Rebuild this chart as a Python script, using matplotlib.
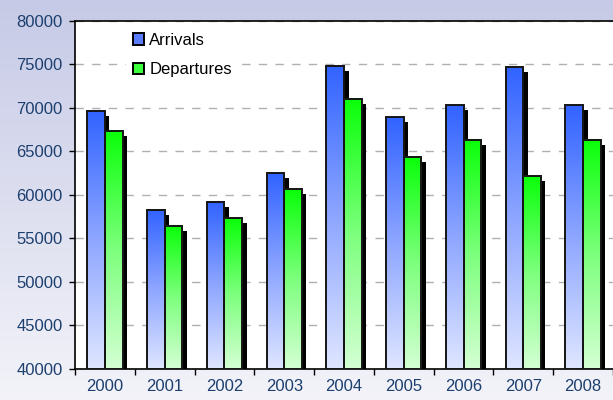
import matplotlib
matplotlib.use("Agg")
import matplotlib.pyplot as plt
import matplotlib.transforms as mtransforms
import numpy as np
from matplotlib.colors import LinearSegmentedColormap
from matplotlib.patches import Patch

years = ["2000", "2001", "2002", "2003", "2004", "2005", "2006", "2007", "2008"]
arrivals = [69700, 58300, 59250, 62500, 74850, 68950, 70300, 74700, 70300]
departures = [67400, 56450, 57350, 60650, 71050, 64400, 66350, 62200, 66350]
y_ticks = [40000, 45000, 50000, 55000, 60000, 65000, 70000, 75000, 80000]

plt.rcParams["font.family"] = ["Liberation Sans", "DejaVu Sans"]

blue_cmap = LinearSegmentedColormap.from_list("b", ["#dfe6ff", "#8ea6ff", "#3163ff"])
green_cmap = LinearSegmentedColormap.from_list("g", ["#d4ffd4", "#7dff7d", "#0aff0a"])
tick_color = "#1c3f6e"

fig = plt.figure(figsize=(6.13, 4.0), dpi=100)

# background gradient for the whole figure
bg = fig.add_axes([0, 0, 1, 1], zorder=-10)
bg_cmap = LinearSegmentedColormap.from_list("bg", ["#f3f3f9", "#c6cae6"])
bg.imshow(np.linspace(0, 1, 256).reshape(-1, 1), aspect="auto", cmap=bg_cmap,
          origin="lower", extent=[0, 1, 0, 1])
bg.set_axis_off()

ax = fig.add_axes([75 / 613, 31 / 400, 538 / 613, 348 / 400])
ax.set_facecolor("white")

x = np.arange(len(years))
width = 0.295
base = y_ticks[0]

# shadow offset a few pixels right and down
shadow_tr = ax.transData + mtransforms.ScaledTranslation(4.5 / 100, -5 / 100,
                                                          fig.dpi_scale_trans)

for xs, vals in [(x - width, arrivals), (x, departures)]:
    sh = ax.bar(xs, np.array(vals) - base, width, bottom=base, align="edge",
                color="black", edgecolor="black", linewidth=0, zorder=2)
    for p in sh:
        p.set_transform(shadow_tr)

grad = np.linspace(0, 1, 256).reshape(-1, 1)
for xs, vals, cmap in [(x - width, arrivals, blue_cmap), (x, departures, green_cmap)]:
    for xi, v in zip(xs, vals):
        ax.imshow(grad, extent=[xi, xi + width, base, v], origin="lower",
                  aspect="auto", cmap=cmap, zorder=3)
    ax.bar(xs, np.array(vals) - base, width, bottom=base, align="edge",
           facecolor="none", edgecolor="#151515", linewidth=1.4, zorder=4)

ax.set_xlim(-0.5, len(years) - 0.5)
ax.set_ylim(40000, 80000)

ax.set_yticks(y_ticks)
ax.tick_params(axis="y", direction="out", length=4, width=1, pad=5,
               labelsize=12, labelcolor=tick_color)
ax.set_xticks(np.arange(-0.5, len(years), 1))
ax.set_xticklabels([])
ax.set_xticks(x, minor=True)
ax.set_xticklabels(years, minor=True)
ax.tick_params(axis="x", which="major", direction="out", length=4, width=1)
ax.tick_params(axis="x", which="minor", length=0, pad=7, labelsize=12,
               labelcolor=tick_color)

ax.yaxis.grid(True, linestyle=(0, (6, 6)), color="#b0b0b0", linewidth=1)
ax.set_axisbelow(True)
for s in ["left", "bottom", "top"]:
    ax.spines[s].set_color("black")
    ax.spines[s].set_linewidth(1.2)
ax.spines["right"].set_visible(False)

handles = [Patch(facecolor="#5a7cff", edgecolor="black", linewidth=1.4),
           Patch(facecolor="#3cff3c", edgecolor="black", linewidth=1.4)]
leg = ax.legend(handles, ["Arrivals", "Departures"], loc="upper left",
                bbox_to_anchor=(0.095, 0.985), fontsize=12, frameon=True,
                facecolor="white", edgecolor="none", framealpha=1,
                handlelength=0.65, handleheight=0.65, handletextpad=0.35,
                labelspacing=0.85, borderaxespad=0)
leg.set_zorder(5)

fig.savefig("out.png", dpi=100)
